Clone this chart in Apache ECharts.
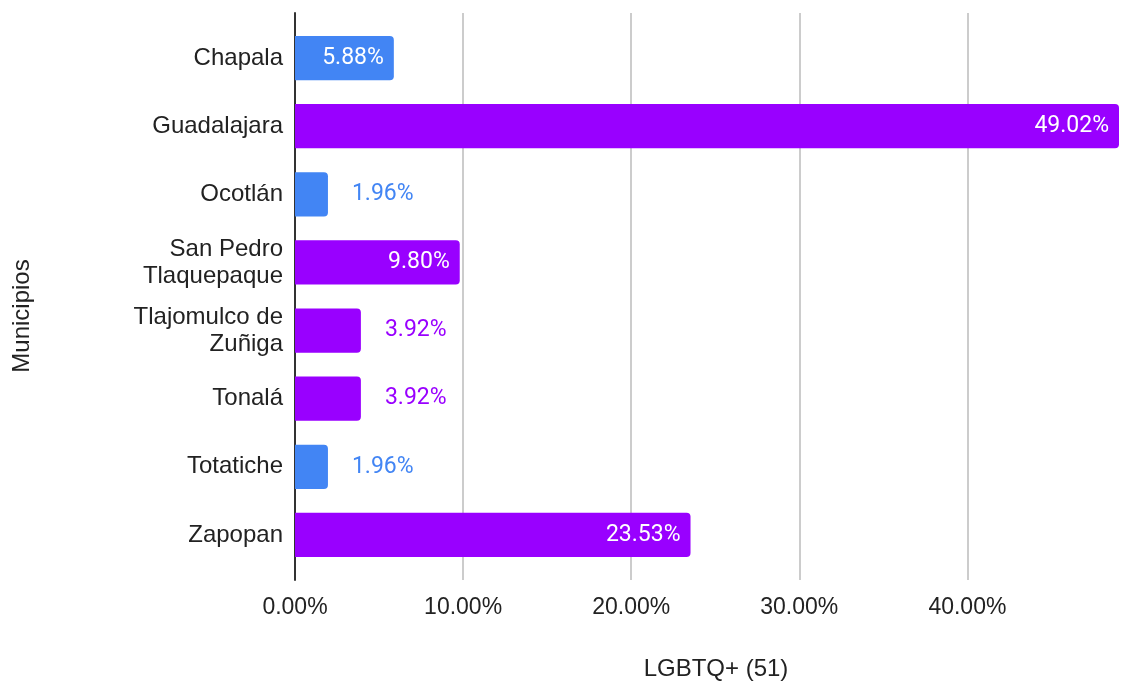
<!DOCTYPE html>
<html><head><meta charset="utf-8">
<script src="https://cdn.jsdelivr.net/npm/echarts@6/dist/echarts.min.js"></script>
<style>html,body{margin:0;padding:0;background:#fff}#c{width:1123px;height:682px}</style>
</head><body><div id="c"></div>
<script>
var categories = ['Chapala', 'Guadalajara', 'Ocotlán', 'San Pedro\nTlaquepaque', 'Tlajomulco de\nZuñiga', 'Tonalá', 'Totatiche', 'Zapopan'];
var values = [5.88, 49.02, 1.96, 9.80, 3.92, 3.92, 1.96, 23.53];
var barColors = ['#4285f4', '#9900ff', '#4285f4', '#9900ff', '#9900ff', '#9900ff', '#4285f4', '#9900ff'];
var labelInside = [true, true, false, true, false, false, false, true];
var xTicks = [0, 10, 20, 30, 40];
var xMax = 49.02;

var chart = echarts.init(document.getElementById('c'));
var data = values.map(function (v, i) {
  return {
    value: v,
    itemStyle: { color: barColors[i] },
    label: labelInside[i]
      ? { position: 'insideRight', distance: 10, color: '#ffffff' }
      : { position: 'right', distance: 24, color: barColors[i] }
  };
});
chart.setOption({
  animation: false,
  grid: [
    { left: 295, right: 4, top: 13, bottom: 102 },
    { left: 295, right: 4, top: 24, bottom: 113 }
  ],
  xAxis: [
    { type: 'value', gridIndex: 0, min: 0, max: xMax, interval: 10,
      axisLine: { show: false }, axisTick: { show: false },
      splitLine: { showMaxLine: false, lineStyle: { color: '#cccccc', width: 2 } },
      axisLabel: { formatter: function (v) { return xTicks.indexOf(v) >= 0 ? v.toFixed(2) + '%' : ''; },
        color: '#222', fontSize: 23, fontFamily: 'Liberation Sans, Arial', margin: 16,
        showMaxLabel: false } },
    { type: 'value', gridIndex: 1, min: 0, max: xMax, show: false }
  ],
  yAxis: [
    { type: 'category', gridIndex: 0, data: [''], axisLine: { show: true, lineStyle: { color: '#333', width: 2 } },
      axisTick: { show: false }, axisLabel: { show: false } },
    { type: 'category', gridIndex: 1, data: categories, inverse: true,
      axisLine: { show: false }, axisTick: { show: false },
      axisLabel: { color: '#222', fontSize: 24, fontFamily: 'Liberation Sans, Arial', margin: 12, lineHeight: 27, align: 'right' } }
  ],
  series: [{
    type: 'bar', xAxisIndex: 1, yAxisIndex: 1, data: data, barCategoryGap: '35%',
    itemStyle: { borderRadius: [0, 4, 4, 0] },
    label: { show: true, fontSize: 23, fontFamily: 'Roboto', formatter: function (p) { return p.value.toFixed(2) + '%'; } }
  }],
  graphic: [
    { type: 'text', x: 716, y: 669, style: { text: 'LGBTQ+ (51)', fill: '#222', fontSize: 24, fontFamily: 'Liberation Sans, Arial', align: 'center', verticalAlign: 'middle' } },
    { type: 'text', x: 22, y: 316, rotation: Math.PI / 2, style: { text: 'Municipios', fill: '#222', fontSize: 24, fontFamily: 'Liberation Sans, Arial', align: 'center', verticalAlign: 'middle' } }
  ]
});
</script></body></html>
